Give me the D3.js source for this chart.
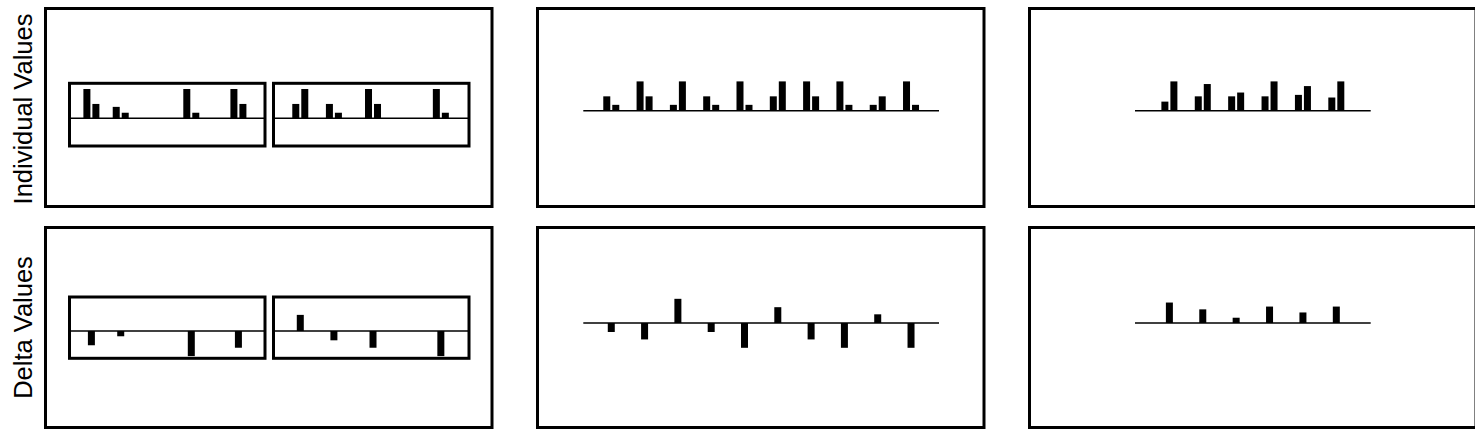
<!DOCTYPE html>
<html>
<head>
<meta charset="utf-8">
<script src="https://cdn.jsdelivr.net/npm/d3@7"></script>
<style>
  html, body { margin: 0; padding: 0; background: #fff; }
  svg { display: block; }
</style>
</head>
<body>
<svg id="chart" width="1475" height="434"></svg>
<script>
// ---------- data ----------
const rowLabels = ["Individual Values", "Delta Values"];

// middle column: 10 groups, two values each, and their deltas
const midGroups = [0, 1, 2, 3, 4, 5, 6, 7, 8, 9];
const midFirst  = [4.9, 10, 2.0, 4.9, 10, 4.9, 10, 10, 2.0, 10];
const midSecond = [2.0, 4.9, 10, 2.0, 2.0, 10, 4.9, 2.0, 4.9, 2.0];
const midDelta  = [-2.9, -5.3, 7.8, -2.9, -8.0, 5.1, -5.3, -8.0, 2.8, -8.0];

// right column: 6 groups
const rightGroups = [0, 1, 2, 3, 4, 5];
const rightFirst  = [3.1, 4.9, 4.9, 4.9, 5.4, 4.5];
const rightSecond = [10, 9.1, 6.2, 10, 8.4, 10];
const rightDelta  = [6.6, 4.4, 1.7, 5.3, 3.4, 5.3];

// left column: two insets, 4 groups each at irregular positions (0..100)
const leftAPos    = [11.2, 26.2, 62.3, 86.4];
const leftAFirst  = [10, 3.9, 10, 10];
const leftASecond = [4.9, 1.9, 1.9, 4.9];
const leftADelta  = [-4.6, -1.7, -8.1, -5.4];

const leftBPos    = [13.7, 30.9, 50.9, 85.6];
const leftBFirst  = [4.9, 4.9, 10, 10];
const leftBSecond = [10, 1.9, 4.9, 1.9];
const leftBDelta  = [5.2, -3.0, -5.4, -8.1];

// ---------- drawing ----------
const svg = d3.select("#chart");
const FRAME_W = 3, BAR_W = 7, GAP = 2;

// outer frames
const colX = [45.5, 537.5, 1029.5];
const frameW = 446.5;
const rowFrames = [{y: 8.5, h: 198}, {y: 227.5, h: 200}];
rowFrames.forEach(rf => colX.forEach(cx => {
  svg.append("rect").attr("x", cx).attr("y", rf.y).attr("width", frameW).attr("height", rf.h)
    .attr("fill", "none").attr("stroke", "#000").attr("stroke-width", FRAME_W);
}));

// row labels
const labelY = [109, 327.5];
rowLabels.forEach((t, i) => {
  svg.append("text").text(t)
    .attr("transform", `translate(32,${labelY[i]}) rotate(-90)`)
    .attr("text-anchor", "middle")
    .attr("font-family", "'Liberation Sans', Arial, Helvetica, sans-serif")
    .attr("font-size", 25.5).attr("fill", "#000");
});

function pairBars(g, xs, ys, first, second, keyX) {
  first.forEach((v, i) => {
    const cx = xs(keyX[i]);
    g.append("rect").attr("x", cx - GAP / 2 - BAR_W).attr("y", ys(v))
      .attr("width", BAR_W).attr("height", ys(0) - ys(v)).attr("fill", "#000");
    const w = second[i];
    g.append("rect").attr("x", cx + GAP / 2).attr("y", ys(w))
      .attr("width", BAR_W).attr("height", ys(0) - ys(w)).attr("fill", "#000");
  });
}
function deltaBars(g, xs, ys, delta, keyX) {
  delta.forEach((v, i) => {
    const cx = xs(keyX[i]);
    g.append("rect").attr("x", cx - BAR_W / 2).attr("y", Math.min(ys(v), ys(0)))
      .attr("width", BAR_W).attr("height", Math.abs(ys(v) - ys(0))).attr("fill", "#000");
  });
}
function baseline(g, xr, y) {
  g.append("line").attr("x1", xr[0]).attr("x2", xr[1]).attr("y1", y).attr("y2", y)
    .attr("stroke", "#000").attr("stroke-width", 1.5);
}

// ---- middle column ----
const xMid = d3.scalePoint().domain(midGroups).range([583.3, 939]).padding(0.84);
const yMidTop = d3.scaleLinear().domain([0, 10]).range([110.7, 81.4]);
const yMidBot = d3.scaleLinear().domain([-10, 10]).range([323 + 31, 323 - 31]);
const gMid = svg.append("g");
baseline(gMid, xMid.range(), yMidTop(0));
pairBars(gMid, xMid, yMidTop, midFirst, midSecond, midGroups);
baseline(gMid, xMid.range(), yMidBot(0));
deltaBars(gMid, xMid, yMidBot, midDelta, midGroups);

// ---- right column ----
const xRight = d3.scalePoint().domain(rightGroups).range([1135, 1370.7]).padding(1.03);
const gRight = svg.append("g");
baseline(gRight, xRight.range(), yMidTop(0));
pairBars(gRight, xRight, yMidTop, rightFirst, rightSecond, rightGroups);
baseline(gRight, xRight.range(), yMidBot(0));
deltaBars(gRight, xRight, yMidBot, rightDelta, rightGroups);

// ---- left column insets ----
const insetX = [69.5, 273.5];
const insetW = 195.5;
const insetRows = [{y: 83.3, h: 62.7}, {y: 297, h: 61.3}];
const yLeftTop = d3.scaleLinear().domain([0, 10]).range([118.3, 89]);
const yLeftBot = d3.scaleLinear().domain([-10, 10]).range([331 + 31, 331 - 31]);
const insetData = [
  {pos: leftAPos, first: leftAFirst, second: leftASecond, delta: leftADelta},
  {pos: leftBPos, first: leftBFirst, second: leftBSecond, delta: leftBDelta}
];
insetData.forEach((d, k) => {
  const x0 = insetX[k];
  const xs = d3.scaleLinear().domain([0, 100]).range([x0, x0 + insetW]);
  const g = svg.append("g");
  // top inset
  baseline(g, [x0, x0 + insetW], yLeftTop(0));
  pairBars(g, xs, yLeftTop, d.first, d.second, d.pos);
  g.append("rect").attr("x", x0).attr("y", insetRows[0].y).attr("width", insetW).attr("height", insetRows[0].h)
    .attr("fill", "none").attr("stroke", "#000").attr("stroke-width", FRAME_W);
  // bottom inset
  baseline(g, [x0, x0 + insetW], yLeftBot(0));
  deltaBars(g, xs, yLeftBot, d.delta, d.pos);
  g.append("rect").attr("x", x0).attr("y", insetRows[1].y).attr("width", insetW).attr("height", insetRows[1].h)
    .attr("fill", "none").attr("stroke", "#000").attr("stroke-width", FRAME_W);
});
</script>
</body>
</html>
